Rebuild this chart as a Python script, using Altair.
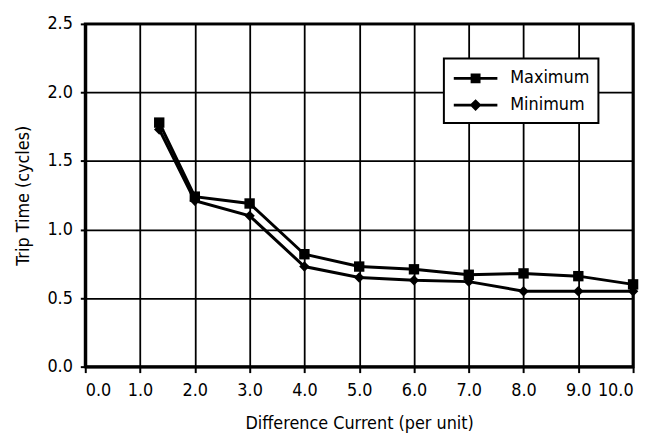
import altair as alt
import pandas as pd

x_vals = [1.35, 2.0, 3.0, 4.0, 5.0, 6.0, 7.0, 8.0, 9.0, 10.0]
max_vals = [1.78, 1.24, 1.19, 0.82, 0.73, 0.71, 0.67, 0.68, 0.66, 0.60]
min_vals = [1.73, 1.21, 1.10, 0.73, 0.65, 0.63, 0.62, 0.55, 0.55, 0.55]
series_names = ["Maximum", "Minimum"]
x_ticks = [0, 1, 2, 3, 4, 5, 6, 7, 8, 9, 10]
y_ticks = [0.0, 0.5, 1.0, 1.5, 2.0, 2.5]

rows = []
for xv, a, b in zip(x_vals, max_vals, min_vals):
    rows.append({"x": xv, "y": a, "series": series_names[0]})
    rows.append({"x": xv, "y": b, "series": series_names[1]})
df = pd.DataFrame(rows)

FONT = "DejaVu Sans Condensed"

xenc = alt.X("x:Q", scale=alt.Scale(domain=[0, 10], nice=False),
             axis=alt.Axis(values=x_ticks, format=".1f", title="Difference Current (per unit)",
                           tickSize=6, labelPadding=9, titlePadding=15))
yenc = alt.Y("y:Q", scale=alt.Scale(domain=[0, 2.5], nice=False),
             axis=alt.Axis(values=y_ticks, format=".1f", title="Trip Time (cycles)",
                           tickSize=5, labelPadding=8, titlePadding=15))

base = alt.Chart(df)

lines = base.mark_line(color="black", strokeWidth=3).encode(
    x=xenc, y=yenc, detail="series:N")

points = base.mark_point(filled=True, color="black", opacity=1, size=110).encode(
    x=xenc, y=yenc,
    shape=alt.Shape("series:N", scale=alt.Scale(domain=series_names, range=["square", "diamond"]), legend=None))

sq = "M-1,-0.15H3.4V0.15H-1Z M0.7,-0.5H1.7V0.5H0.7Z"
dm = "M-1,-0.15H3.4V0.15H-1Z M1.2,-0.6L1.8,0L1.2,0.6L0.6,0Z"

legend_layer = base.mark_point(filled=True, color="black", opacity=1, size=400).encode(
    x=xenc, y=yenc,
    shape=alt.Shape("series:N", scale=alt.Scale(domain=series_names, range=[sq, dm]),
                    legend=alt.Legend(title=None, orient="none", legendX=362, legendY=35,
                                      labelFont=FONT, labelFontSize=18, labelColor="black",
                                      labelOffset=36, rowPadding=7, padding=9,
                                      symbolSize=400, symbolFillColor="black",
                                      symbolOpacity=1,
                                      strokeColor="black", fillColor="white"))
).transform_filter("false")

chart = alt.layer(lines, points, legend_layer).resolve_scale(shape="independent").properties(
    width=553, height=346,
    padding={"left": 78, "top": 14, "right": 10, "bottom": 70},
    autosize="none",
).configure_view(stroke="black", strokeWidth=3).configure_axis(
    domainColor="black", domainWidth=3, tickColor="black", tickWidth=2,
    gridColor="black", gridWidth=1.8, gridOpacity=1,
    labelFont=FONT, labelFontSize=18, labelColor="black",
    titleFont=FONT, titleFontSize=18, titleColor="black", titleFontWeight="normal",
).configure_legend(strokeWidth=2)

chart.save("out.html", embed_options={"renderer": "svg", "actions": False})
